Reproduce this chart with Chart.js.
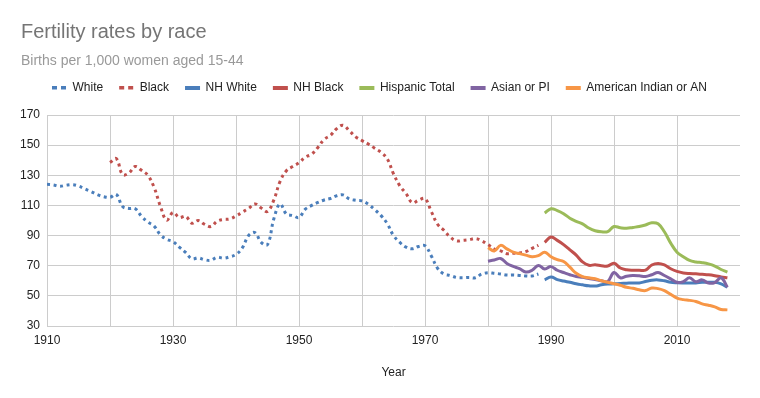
<!DOCTYPE html>
<html>
<head>
<meta charset="utf-8">
<script src="https://cdn.jsdelivr.net/npm/chart.js@4"></script>
<style>
  html, body { margin: 0; padding: 0; background: #fff; }
  #wrap { width: 760px; height: 398px; position: relative; }
</style>
</head>
<body>
<div id="wrap"><canvas id="chart" width="760" height="398"></canvas></div>
<script>
const FONT = '"Liberation Sans", Arial, sans-serif';

const chartTitle = 'Fertility rates by race';
const chartSubtitle = 'Births per 1,000 women aged 15-44';
const seriesNames = ['White', 'Black', 'NH White', 'NH Black', 'Hispanic Total', 'Asian or PI', 'American Indian or AN'];

// first year of each series (one value per year after that)
const whiteFrom = 1910;
const blackFrom = 1920;
const nhFrom = 1989;
const asianFrom = 1980;
const aianFrom = 1980;

const white = [
  124, 123.6, 122.7, 123.4, 123.8, 122.9, 121, 119.2, 117.2, 115.8,
  115.4, 117.3, 109.3, 108, 107.8, 102.8, 99, 96.3, 90.5, 87.5,
  86, 82.3, 78.8, 74.6, 75.2, 74, 73.6, 75.6, 75, 75.9,
  77.5, 81.8, 90, 92, 85.5, 84, 101, 111, 104.3, 103.3,
  102, 107.5, 110, 112, 113.6, 114.6, 116.4, 117, 114.3, 113.4,
  113, 110.8, 107.3, 103.4, 98, 90, 85.5, 82.3, 81.2, 82.8,
  83.3, 76.5, 68.3, 64.5, 63.5, 62.2, 62, 62.2, 62, 64.5,
  65.3, 65, 64.5, 63.8, 63.8, 63.5, 63.2, 63.2, 64.5
];
const black = [
  138.5, 141, 130.5, 131.5, 135.8, 133.3, 130, 122, 109.5, 100.3,
  105.3, 102, 102.8, 98.2, 100, 97.5, 96, 99.5, 100.7, 101,
  103, 105.5, 108, 111, 108.3, 106, 113.5, 126, 133, 135.8,
  138.3, 142, 144, 148.5, 153.8, 156.5, 161, 163.2, 159.5, 155.5,
  153, 150.8, 148, 145.3, 141, 131, 123, 117.8, 111.8, 113.5,
  114.5, 106, 97.5, 93.5, 89, 86.5, 86.8, 87.2, 88, 86.5,
  84, 81, 79.8, 78, 78.3, 78.5, 79.4, 81.5, 83.5
];
const nhWhite = [
  60.6, 62.5, 60.8, 59.8, 59, 58, 57.3, 56.7, 56.5, 57.3,
  57.8, 58, 58.2, 58.4, 58.6, 58.6, 59.5, 60.4, 60.6, 60,
  59, 58.7, 58.6, 58.6, 58.6, 59, 59, 59, 58, 55.7
];
const nhBlack = [
  85.5, 89, 86.8, 84, 80.5, 77, 72.5, 70.3, 70.6, 70,
  69.8, 71.6, 68.5, 67.3, 67, 67, 67, 70.5, 71.5, 70.5,
  68, 66.2, 65.2, 64.8, 64.6, 64.3, 64, 63.4, 62.6, 62
];
const hispanic = [
  105, 107.8, 106.6, 104.5, 101.5, 99.5, 97.8, 95, 93.2, 92.5,
  92.6, 96, 95.2, 94.8, 95.4, 96, 97, 98.5, 97.8, 92.5,
  85, 79, 76, 73.5, 72.5, 72, 71.2, 69.8, 67.5, 65.8
];
const asianPI = [
  73, 73.8, 74.8, 71.5, 69.5, 68, 65.8, 67, 70.2, 67.8,
  69.4, 67, 65.5, 64, 62.8, 62.3, 61.5, 60.8, 60, 59.5,
  65.5, 62, 63, 63.5, 63.3, 62.8, 64, 65.5, 63.5, 61.3,
  59, 59.5, 62, 59.3, 60.6, 58.5, 58.8, 62, 55.7
];
const aian = [
  82, 79.8, 83.5, 81.2, 79, 78, 77, 76, 76.7, 79,
  76, 74, 72.8, 69, 65, 62.8, 62, 61.3, 60, 59,
  58, 57, 55.7, 55, 54, 53.5, 55.2, 54.8, 53.5, 51,
  48.5, 47.5, 47, 46.3, 44.7, 43.8, 42.7, 41, 40.7
];

const yearTicks = { min: 1910, max: 2020, step: 10 };
const valueTicks = { min: 30, max: 170, step: 20 };

const colors = ['#4a7ebb', '#c0504d', '#4a7ebb', '#c0504d', '#9bbb59', '#8064a2', '#f79646'];

function toPoints(from, values) {
  return values.map((v, i) => ({ x: from + i, y: v }));
}

const seriesData = [
  toPoints(whiteFrom, white),
  toPoints(blackFrom, black),
  toPoints(nhFrom, nhWhite),
  toPoints(nhFrom, nhBlack),
  toPoints(nhFrom, hispanic),
  toPoints(asianFrom, asianPI),
  toPoints(aianFrom, aian)
];

const datasets = seriesData.map((pts, i) => ({
  label: seriesNames[i],
  data: pts,
  borderColor: colors[i],
  backgroundColor: colors[i],
  borderWidth: 3,
  borderDash: i < 2 ? [3, 3.6] : undefined,
  pointRadius: 0,
  tension: 0.4,
  fill: false,
  order: seriesNames.length - 1 - i
}));

// title, subtitle and legend drawn in the header band
const header = {
  id: 'header',
  afterDraw(chart) {
    const ctx = chart.ctx;
    ctx.save();
    ctx.textAlign = 'left';
    ctx.textBaseline = 'alphabetic';
    ctx.fillStyle = '#757575';
    ctx.font = '20px ' + FONT;
    ctx.fillText(chartTitle, 21, 38);
    ctx.fillStyle = '#999999';
    ctx.font = '14px ' + FONT;
    ctx.fillText(chartSubtitle, 21, 65);

    ctx.font = '12px ' + FONT;
    ctx.textBaseline = 'middle';
    const ds = chart.data.datasets;
    const widths = ds.map(d => 20.5 + ctx.measureText(d.label).width);
    const total = widths.reduce((a, b) => a + b, 0) + 16 * (ds.length - 1);
    let x = 379.5 - total / 2;
    ds.forEach((d, i) => {
      ctx.fillStyle = d.borderColor;
      if (d.borderDash) {
        ctx.fillRect(x, 86, 5, 3.5);
        ctx.fillRect(x + 9, 86, 5, 3.5);
      } else {
        ctx.fillRect(x, 86, 15, 4);
      }
      ctx.fillStyle = '#222222';
      ctx.fillText(d.label, x + 20.5, 88);
      x += widths[i] + 16;
    });
    ctx.restore();
  }
};

new Chart(document.getElementById('chart'), {
  type: 'line',
  data: { datasets: datasets },
  plugins: [header],
  options: {
    responsive: false,
    animation: false,
    layout: { padding: { top: 115, right: 20, bottom: 0, left: 0 } },
    plugins: {
      legend: { display: false },
      title: { display: false },
      tooltip: { enabled: false }
    },
    scales: {
      x: {
        type: 'linear',
        min: yearTicks.min,
        max: yearTicks.max,
        ticks: {
          stepSize: yearTicks.step,
          autoSkip: false,
          maxRotation: 0,
          padding: 7,
          color: '#222222',
          font: { family: FONT, size: 12 },
          callback: v => ((v - 1910) % 20 === 0 && v < 2020) ? String(v) : ''
        },
        grid: {
          color: c => (c.tick && c.tick.value >= 2020) ? 'rgba(0,0,0,0)' : '#cccccc',
          drawTicks: false
        },
        border: { display: false },
        title: {
          display: true,
          text: 'Year',
          color: '#222222',
          font: { family: FONT, size: 12 },
          padding: { top: 0, bottom: 18 }
        },
        afterFit: s => { s.height = 72; }
      },
      y: {
        min: valueTicks.min,
        max: valueTicks.max,
        ticks: {
          stepSize: valueTicks.step,
          padding: 7,
          color: '#222222',
          font: { family: FONT, size: 12 }
        },
        grid: { color: '#cccccc', drawTicks: false },
        border: { display: false },
        afterFit: s => { s.width = 47; }
      }
    }
  }
});
</script>
</body>
</html>
